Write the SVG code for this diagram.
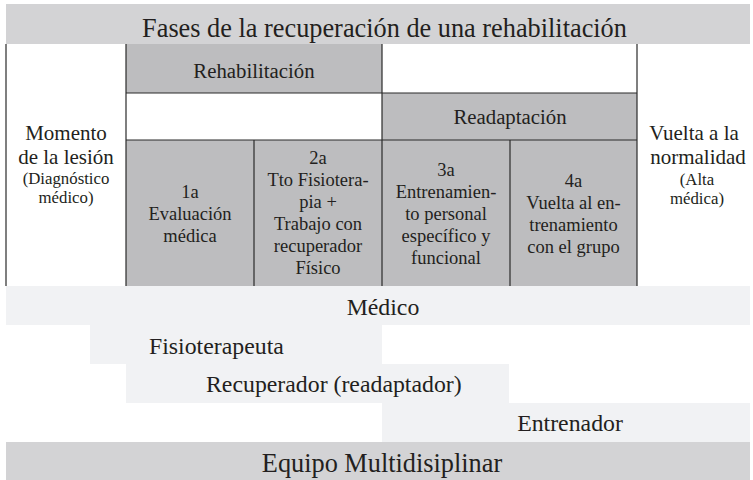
<svg xmlns="http://www.w3.org/2000/svg" width="753" height="480" viewBox="0 0 753 480">
<style>
text{font-family:"Liberation Serif","Tinos","Times New Roman","DejaVu Serif",serif;fill:#231f20;text-anchor:middle}
.band{fill:#d3d3d5}
.cell{fill:#bdbdbf}
.light{fill:#f1f2f4}
.white{fill:#ffffff}
.ln{stroke:#2b2b2b;stroke-width:1.2;fill:none}
.t26{font-size:26.3px}
.t20{font-size:20.8px}
.t21{font-size:21px}
.t17{font-size:16.8px}
.t18{font-size:18.5px}
.t24{font-size:23.8px}
</style>
<rect width="753" height="480" fill="#ffffff"/>
<g id="title">
<rect class="band" x="6" y="4" width="744" height="40"/>
<text class="t26" x="384.5" y="37">Fases de la recuperación de una rehabilitación</text>
</g>
<g id="momento">
<text class="t21" x="66" y="140">Momento</text>
<text class="t21" x="66" y="164">de la lesión</text>
<text class="t17" x="66" y="184">(Diagnóstico</text>
<text class="t17" x="66" y="203">médico)</text>
</g>
<g id="rehabilitacion">
<rect class="cell" x="126" y="44" width="256" height="49"/>
<text class="t20" x="254" y="78">Rehabilitación</text>
</g>
<g id="empty-top"><rect class="white" x="382" y="44" width="255" height="49"/></g>
<g id="empty-mid"><rect class="white" x="126" y="93" width="256" height="47"/></g>
<g id="readaptacion">
<rect class="cell" x="382" y="93" width="255" height="47"/>
<text class="t20" x="510" y="124">Readaptación</text>
</g>
<g id="fase1">
<rect class="cell" x="126" y="140" width="128" height="146"/>
<text class="t18" x="190" y="198">1a</text>
<text class="t18" x="190" y="220">Evaluación</text>
<text class="t18" x="190" y="242">médica</text>
</g>
<g id="fase2">
<rect class="cell" x="254" y="140" width="128" height="146"/>
<text class="t18" x="318" y="164">2a</text>
<text class="t18" x="318" y="186">Tto Fisiotera-</text>
<text class="t18" x="318" y="208">pia +</text>
<text class="t18" x="318" y="230">Trabajo con</text>
<text class="t18" x="318" y="252">recuperador</text>
<text class="t18" x="318" y="274">Físico</text>
</g>
<g id="fase3">
<rect class="cell" x="382" y="140" width="128" height="146"/>
<text class="t18" x="446" y="176">3a</text>
<text class="t18" x="446" y="198">Entrenamien-</text>
<text class="t18" x="446" y="220">to personal</text>
<text class="t18" x="446" y="242">específico y</text>
<text class="t18" x="446" y="264">funcional</text>
</g>
<g id="fase4">
<rect class="cell" x="510" y="140" width="127" height="146"/>
<text class="t18" x="573.5" y="187">4a</text>
<text class="t18" x="573.5" y="209">Vuelta al en-</text>
<text class="t18" x="573.5" y="231">trenamiento</text>
<text class="t18" x="573.5" y="253">con el grupo</text>
</g>
<g id="vuelta">
<text class="t21" x="694" y="140">Vuelta a la</text>
<text class="t21" x="698" y="164">normalidad</text>
<text class="t17" x="697" y="185">(Alta</text>
<text class="t17" x="697" y="204">médica)</text>
</g>
<g id="grid">
<path class="ln" d="M6 44V286M126 44V286M382 44V286M637 44V286M254 140V286M510 140V286M126 93H637M126 140H637"/>
</g>
<g id="medico">
<rect class="light" x="6" y="286" width="744" height="39"/>
<text class="t24" x="383" y="315">Médico</text>
</g>
<g id="fisioterapeuta">
<rect class="light" x="90" y="325" width="292" height="39"/>
<text class="t24" x="149" y="354" style="text-anchor:start">Fisioterapeuta</text>
</g>
<g id="recuperador">
<rect class="light" x="126" y="364" width="383" height="39"/>
<text class="t24" x="206" y="392" style="text-anchor:start">Recuperador (readaptador)</text>
</g>
<g id="entrenador">
<rect class="light" x="382" y="403" width="368" height="39"/>
<text class="t24" x="570" y="431">Entrenador</text>
</g>
<g id="equipo">
<rect class="band" x="6" y="442" width="744" height="38"/>
<text class="t26" x="382" y="472">Equipo Multidisiplinar</text>
</g>
</svg>
